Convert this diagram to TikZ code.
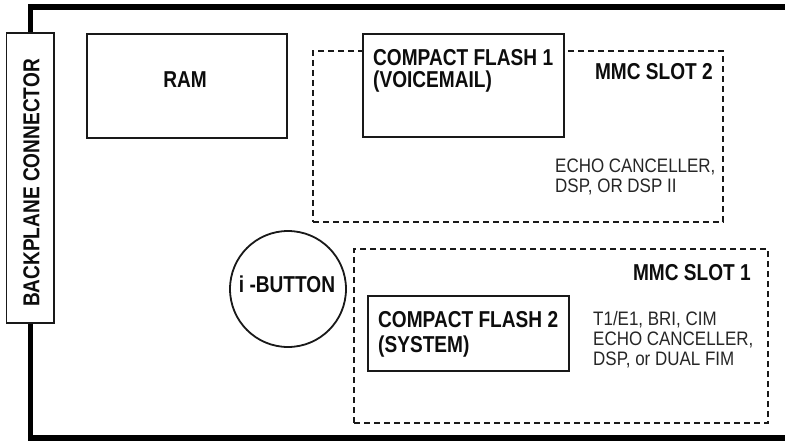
\documentclass[tikz,border=0pt]{standalone}
\usepackage{fontspec}
\setmainfont{Liberation Sans}
\newfontfamily\condbold{Liberation Sans}[FakeStretch=0.83]
\newfontfamily\condplain{Liberation Sans}[FakeStretch=0.87]
\tikzset{
  box/.style={draw=black!90, line width=1.8pt, fill=white, inner sep=0pt},
  slot/.style={draw=black!90, line width=1.8pt, dash pattern=on 6pt off 4pt, inner sep=0pt},
  frame/.style={line width=5.5pt, black, line join=miter},
  boldtxt/.style={font=\condbold\bfseries\fontsize{23}{25}\selectfont, text=black!95, inner sep=0pt},
  plaintxt/.style={font=\condplain\fontsize{19.5}{21}\selectfont, text=black!85, inner sep=0pt},
}
\begin{document}
\begin{tikzpicture}[x=1pt,y=-1pt]
\useasboundingbox[fill=white] (0,0) rectangle (785,441);
% backplane connector
\node[box, minimum width=47.5pt, minimum height=290pt] (bp) at (30.25,178) {};
\node[boldtxt, rotate=90] (bpt) at (31.5,183) {BACKPLANE CONNECTOR};
% frame
\draw[frame] (bp.north) -- (bp.north |- 0,7) -- (792,7);
\draw[frame] (bp.south) -- (bp.south |- 0,438) -- (792,438);
% MMC slot 2
\node[slot, minimum width=410pt, minimum height=171pt] (slot2) at (518,136.5) {};
% RAM
\node[box, minimum width=200pt, minimum height=104pt] (ram) at (187,86) {};
\node[boldtxt, anchor=base] (ramt) at (185,88) {RAM};
% Compact flash 1
\node[box, minimum width=201pt, minimum height=103pt] (cf1) at (463.5,85.5) {};
\node[boldtxt, anchor=base west] (cf1a) at (373,66) {COMPACT FLASH 1};
\node[boldtxt, anchor=base west] (cf1b) at (373,88) {(VOICEMAIL)};
\node[boldtxt, anchor=base east] (s2t) at (713,80) {MMC SLOT 2};
\node[plaintxt, anchor=base west] (s2a) at (555,173) {ECHO CANCELLER,};
\node[plaintxt, anchor=base west] (s2b) at (555,193) {DSP, OR DSP II};
% i-button
\node[draw=black!90, circle, line width=1.8pt, minimum size=116pt, inner sep=0pt] (ib) at (288,289) {};
\node[boldtxt, anchor=base] (ibt) at (287,292) {i -BUTTON};
% MMC slot 1
\node[slot, minimum width=414pt, minimum height=174pt] (slot1) at (561,336) {};
\node[boldtxt, anchor=base east] (s1t) at (751,280) {MMC SLOT 1};
% Compact flash 2
\node[box, minimum width=201pt, minimum height=75pt] (cf2) at (468.5,333.5) {};
\node[boldtxt, anchor=base west] (cf2a) at (378,327) {COMPACT FLASH 2};
\node[boldtxt, anchor=base west] (cf2b) at (378,352) {(SYSTEM)};
\node[plaintxt, anchor=base west] (s1a) at (593,325) {T1/E1, BRI, CIM};
\node[plaintxt, anchor=base west] (s1b) at (593,345) {ECHO CANCELLER,};
\node[plaintxt, anchor=base west] (s1c) at (593,365) {DSP, or DUAL FIM};
\end{tikzpicture}
\end{document}
